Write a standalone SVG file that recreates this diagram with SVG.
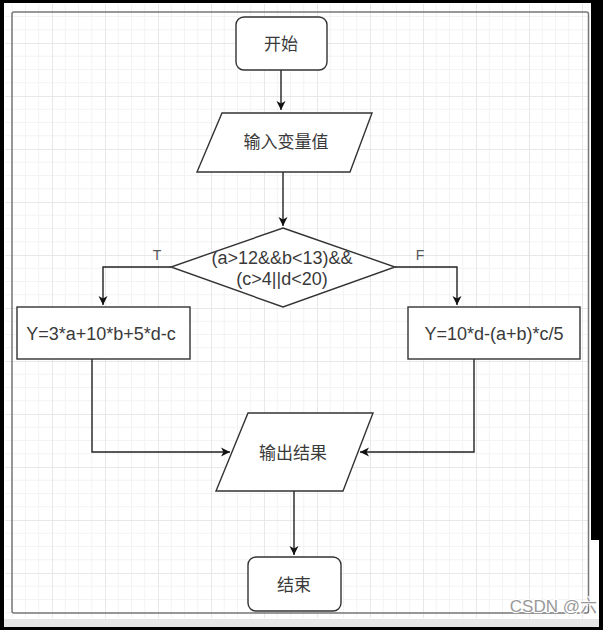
<svg xmlns="http://www.w3.org/2000/svg" width="603" height="630" viewBox="0 0 603 630">
<style>
.shape{fill:#ffffff;stroke:#333333;stroke-width:1.4}
.conn{fill:none;stroke:#222222;stroke-width:1.4}
.t{font-family:"Liberation Sans","Noto Sans CJK SC",sans-serif;font-size:17px;fill:#3a3a3a;text-anchor:middle;dominant-baseline:central}
.m{font-size:18px}
.lbl{font-family:"Liberation Sans",sans-serif;font-size:14px;fill:#555555;text-anchor:middle;dominant-baseline:central}
</style>
<defs>
<pattern id="grid" patternUnits="userSpaceOnUse" x="-1" y="-10" width="53" height="53">
<path d="M13.25 0V53M26.5 0V53M39.75 0V53M0 13.25H53M0 26.5H53M0 39.75H53" stroke="#f3f3f3" stroke-width="1" fill="none"/>
<path d="M0.5 0V53M0 0.5H53" stroke="#e8e8e8" stroke-width="1" fill="none"/>
</pattern>
<marker id="arr" markerWidth="10" markerHeight="10" refX="9" refY="5" orient="auto" markerUnits="userSpaceOnUse">
<path d="M0 0.5L9 5L0 9.5L2.5 5Z" fill="#111111"/>
</marker>
</defs>
<rect x="0" y="0" width="603" height="630" fill="#000000"/>
<rect x="4" y="3" width="587" height="617" fill="#ffffff"/>
<rect x="588" y="540" width="11" height="80" fill="#ffffff"/>
<rect x="4" y="619" width="595" height="8" fill="#e6e6e6"/>
<rect x="5" y="4" width="584" height="614" fill="url(#grid)"/>
<rect x="12" y="12" width="576.5" height="601" rx="2" fill="none" stroke="#777777" stroke-width="1.5"/>
<g id="connectors">
<path class="conn" d="M281 70V110" marker-end="url(#arr)"/>
<path class="conn" d="M283 172V226" marker-end="url(#arr)"/>
<path class="conn" d="M171 267H103V305" marker-end="url(#arr)"/>
<path class="conn" d="M395 267H457V305" marker-end="url(#arr)"/>
<path class="conn" d="M92 359V452H230" marker-end="url(#arr)"/>
<path class="conn" d="M474 359V452H360" marker-end="url(#arr)"/>
<path class="conn" d="M294 491V555" marker-end="url(#arr)"/>
<text class="lbl" x="157" y="255">T</text>
<text class="lbl" x="420" y="255">F</text>
</g>
<g id="start">
<rect class="shape" x="236" y="17" width="91" height="53" rx="8"/>
<text class="t" x="281" y="44">开始</text>
</g>
<g id="input">
<polygon class="shape" points="222,113 372,113 350,172 197,172"/>
<text class="t" x="286" y="142" font-size="15">输入变量值</text>
</g>
<g id="decision">
<polygon class="shape" points="283,228 395,267 283,307 171,267"/>
<text class="t m" x="282" y="258">(a&gt;12&amp;&amp;b&lt;13)&amp;&amp;</text>
<text class="t m" x="282" y="279">(c&gt;4||d&lt;20)</text>
</g>
<g id="calcT">
<rect class="shape" x="17" y="307" width="173" height="52"/>
<text class="t m" x="101" y="334">Y=3*a+10*b+5*d-c</text>
</g>
<g id="calcF">
<rect class="shape" x="408" y="307" width="172" height="52"/>
<text class="t m" x="494" y="334">Y=10*d-(a+b)*c/5</text>
</g>
<g id="output">
<polygon class="shape" points="248,413 373,413 343,491 216,491"/>
<text class="t" x="293" y="453">输出结果</text>
</g>
<g id="end">
<rect class="shape" x="248" y="557" width="93" height="54" rx="8"/>
<text class="t" x="294" y="585">结束</text>
</g>
<text x="597" y="612" font-family="Liberation Sans,Noto Sans CJK SC,sans-serif" font-size="17" fill="#999999" stroke="#ffffff" stroke-width="2" paint-order="stroke" text-anchor="end">CSDN @六</text>
</svg>
